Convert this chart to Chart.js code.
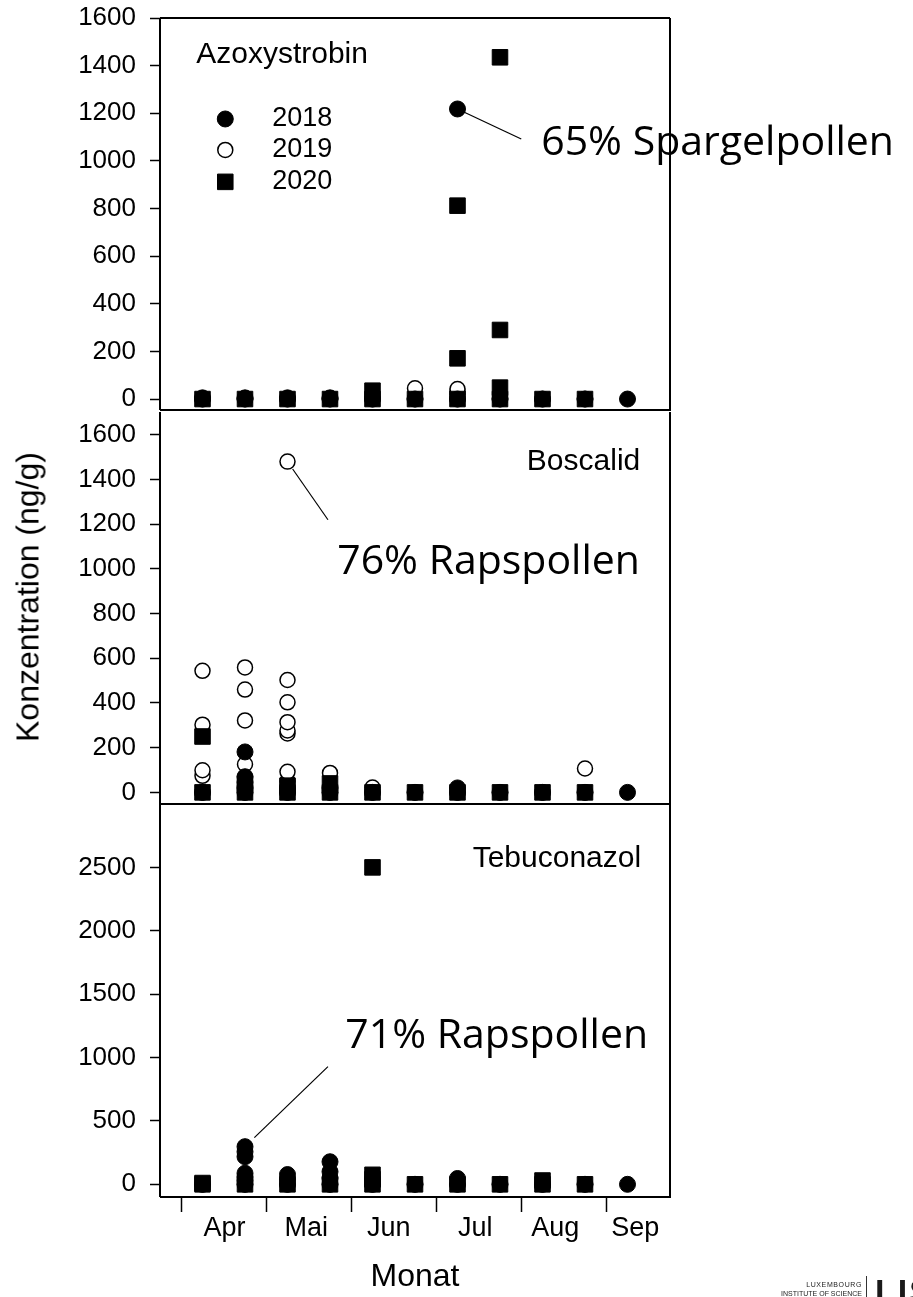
<!DOCTYPE html>
<html>
<head>
<meta charset="utf-8">
<script src="https://cdn.jsdelivr.net/npm/chart.js@4/dist/chart.umd.min.js"></script>
<style>
  body { margin: 0; background: #fff; width: 913px; height: 1297px; overflow: hidden; position: relative;
         font-family: 'Liberation Sans', Arial, sans-serif; }
  .panel { position: absolute; left: 0; width: 913px; }
  #p1 { top: 0; height: 423px; }
  #p2 { top: 400px; height: 420px; }
  #p3 { top: 790px; height: 507px; }
  #ytitle { position: absolute; left: 28px; top: 597px; transform: translate(-50%, -50%) rotate(-90deg);
            font-size: 32px; white-space: nowrap; color: #000; }
  .logo-small { position: absolute; right: 51px; font-size: 7px; color: #222; white-space: nowrap; line-height: 1;
                text-align: right; }
  #logo-bar { position: absolute; left: 866px; top: 1276px; width: 1px; height: 22px; background: #333; }
  #logo-list { position: absolute; left: 875px; top: 1274px; font-size: 34px; line-height: 1; font-weight: bold;
               color: #1a1a1a; letter-spacing: 2px; }
</style>
</head>
<body>
<div class="panel" id="p1"><canvas id="c1"></canvas></div>
<div class="panel" id="p2"><canvas id="c2"></canvas></div>
<div class="panel" id="p3"><canvas id="c3"></canvas></div>
<div id="ytitle">Konzentration (ng/g)</div>
<div class="logo-small" style="top:1281px; letter-spacing:0.6px;">LUXEMBOURG</div>
<div class="logo-small" style="top:1290px;">INSTITUTE OF SCIENCE</div>
<div id="logo-bar"></div>
<div id="logo-list">LIST</div>

<script>
// Sampling slots: half months from April (0 = 1 April, 1 = 1 May, ...)
const sampleX = [0.25, 0.75, 1.25, 1.75, 2.25, 2.75, 3.25, 3.75, 4.25, 4.75, 5.25];
const monthEdges = [0, 1, 2, 3, 4, 5];
const monthNames = ['Apr', 'Mai', 'Jun', 'Jul', 'Aug', 'Sep'];
const monthLabelPos = [0.51, 1.47, 2.44, 3.46, 4.40, 5.34];
const years = ['2018', '2019', '2020'];

// Values as [slot index, ng/g]
const azo2018 = [[0,0],[0,5],[1,0],[1,5],[2,0],[2,5],[3,0],[3,5],[4,0],[5,0],[6,0],[6,1218],[7,0],[8,0],[9,0],[10,0]];
const azo2019 = [[0,0],[1,0],[2,0],[3,0],[4,0],[5,0],[5,45],[6,0],[6,20],[6,32],[6,42],[7,0],[8,0],[9,0]];
const azo2020 = [[0,0],[1,0],[2,0],[3,0],[4,0],[4,35],[5,0],[6,0],[6,171],[6,812],[7,0],[7,48],[7,290],[7,1435],[8,0],[9,0]];

const bos2018 = [[0,0],[1,0],[1,20],[1,45],[1,70],[1,181],[2,0],[2,15],[3,0],[3,20],[4,0],[5,0],[6,0],[6,20],[7,0],[8,0],[9,0],[10,0]];
const bos2019 = [[0,0],[0,74],[0,99],[0,303],[0,544],[1,0],[1,126],[1,322],[1,460],[1,559],[2,0],[2,50],[2,92],[2,264],[2,277],[2,314],[2,403],[2,503],[2,1480],[3,0],[3,87],[4,0],[4,22],[5,0],[6,0],[7,0],[8,0],[9,0],[9,107]];
const bos2020 = [[0,0],[0,250],[1,0],[1,40],[2,0],[2,30],[3,0],[3,40],[4,0],[5,0],[6,0],[7,0],[8,0],[9,0]];

const teb2018 = [[0,0],[1,0],[1,30],[1,60],[1,87],[1,218],[1,257],[1,297],[2,0],[2,40],[2,77],[3,0],[3,50],[3,100],[3,178],[4,0],[5,0],[6,0],[6,46],[7,0],[8,0],[9,0],[10,0]];
const teb2019 = [[0,0],[1,0],[2,0],[3,0],[4,0],[5,0],[6,0],[7,0],[8,0],[9,0]];
const teb2020 = [[0,0],[0,10],[1,0],[2,0],[3,0],[4,0],[4,40],[4,75],[4,2500],[5,0],[6,0],[7,0],[8,0],[8,30],[9,0]];

const ticksAzo = [0, 200, 400, 600, 800, 1000, 1200, 1400, 1600];
const ticksBos = [0, 200, 400, 600, 800, 1000, 1200, 1400, 1600];
const ticksTeb = [0, 500, 1000, 1500, 2000, 2500];

const FONT = "'Liberation Sans', Arial, sans-serif";
const NOTE_FONT = "41px 'Open Sans', sans-serif";

function toPoints(pairs) {
    return pairs.map(p => ({ x: sampleX[p[0]], y: p[1] }));
}

function makeDatasets(d18, d19, d20) {
    return [
        { label: years[0], data: toPoints(d18), pointStyle: 'circle', pointRadius: 8, borderWidth: 1,
          backgroundColor: '#000', borderColor: '#000', order: 1 },
        { label: years[1], data: toPoints(d19), pointStyle: 'circle', pointRadius: 7.5, borderWidth: 1.5,
          backgroundColor: '#fff', borderColor: '#000', order: 3 },
        { label: years[2], data: toPoints(d20), pointStyle: 'rect', pointRadius: 11, borderWidth: 1,
          backgroundColor: '#000', borderColor: '#000', order: 2 }
    ];
}

// frame, panel name, callouts and legend
const panelDeco = {
    id: 'panelDeco',
    afterDatasetsDraw(chart, args, opts) {
        const { ctx, chartArea: a, scales: { x, y } } = chart;
        ctx.save();
        ctx.strokeStyle = '#000';
        ctx.lineWidth = 2;
        // the panel above already draws the shared top edge
        ctx.beginPath();
        if (opts.frameTop) {
            ctx.moveTo(a.left, a.top);
            ctx.lineTo(a.right, a.top);
        }
        ctx.moveTo(a.right, a.top);
        ctx.lineTo(a.right, a.bottom);
        ctx.lineTo(a.left, a.bottom);
        ctx.moveTo(a.left, a.top);
        ctx.lineTo(a.left, a.bottom);
        ctx.stroke();

        ctx.fillStyle = '#000';
        ctx.font = '30px ' + FONT;
        ctx.textAlign = opts.nameAlign;
        ctx.textBaseline = 'alphabetic';
        ctx.fillText(opts.name, x.getPixelForValue(opts.nameAt[0]), y.getPixelForValue(opts.nameAt[1]));

        (opts.notes || []).forEach(n => {
            const px = x.getPixelForValue(n.point[0]), py = y.getPixelForValue(n.point[1]);
            const ex = x.getPixelForValue(n.lineEnd[0]), ey = y.getPixelForValue(n.lineEnd[1]);
            const len = Math.hypot(ex - px, ey - py);
            ctx.beginPath();
            ctx.lineWidth = 1.2;
            ctx.moveTo(px + (ex - px) / len * n.gap, py + (ey - py) / len * n.gap);
            ctx.lineTo(ex, ey);
            ctx.stroke();
            ctx.font = NOTE_FONT;
            ctx.textAlign = 'left';
            ctx.fillText(n.text, x.getPixelForValue(n.textAt[0]), y.getPixelForValue(n.textAt[1]));
        });

        if (opts.legend) {
            const lg = opts.legend;
            chart.data.datasets.forEach((ds, i) => {
                const ly = y.getPixelForValue(lg.rows[i]);
                ctx.fillStyle = ds.backgroundColor;
                ctx.strokeStyle = ds.borderColor;
                ctx.lineWidth = ds.borderWidth;
                Chart.helpers.drawPoint(ctx, { pointStyle: ds.pointStyle, radius: ds.pointRadius,
                    borderWidth: ds.borderWidth, rotation: 0 }, x.getPixelForValue(lg.markerX), ly);
                ctx.fillStyle = '#000';
                ctx.font = '27px ' + FONT;
                ctx.textAlign = 'left';
                ctx.textBaseline = 'middle';
                ctx.fillText(ds.label, x.getPixelForValue(lg.textX), ly);
            });
        }
        ctx.restore();
    }
};

function yScale(min, max, tickValues) {
    return {
        type: 'linear', min: min, max: max,
        afterFit(scale) {
            scale.width = 160;
            scale.paddingTop = 0;
            scale.paddingBottom = 0;
        },
        afterBuildTicks(scale) { scale.ticks = tickValues.map(v => ({ value: v })); },
        border: { display: false },
        grid: { drawOnChartArea: false, drawTicks: true, tickLength: 10, tickWidth: 1.5, tickColor: '#000' },
        ticks: { color: '#000', padding: 14, font: { family: FONT, size: 26 }, callback: v => String(v) }
    };
}

function xScale(showAxis) {
    const s = {
        type: 'linear', min: -0.25, max: 5.75, display: showAxis
    };
    if (showAxis) {
        Object.assign(s, {
            afterFit(scale) {
                scale.height = 100;
                scale.paddingLeft = 0;
                scale.paddingRight = 0;
            },
            afterBuildTicks(scale) {
                scale.ticks = monthEdges.concat(monthLabelPos).map(v => ({ value: v }));
            },
            border: { display: false },
            grid: {
                drawOnChartArea: false, drawTicks: true, tickLength: 15, tickWidth: 1.5,
                tickColor: c => c.index < monthEdges.length ? '#000' : 'rgba(0,0,0,0)'
            },
            ticks: {
                autoSkip: false, maxRotation: 0, padding: 0, color: '#000',
                font: { family: FONT, size: 27 },
                callback: (v, i) => i < monthEdges.length ? '' : monthNames[i - monthEdges.length]
            },
            title: { display: true, text: 'Monat', color: '#000', font: { family: FONT, size: 32 },
                     padding: { top: 0, bottom: 1 } }
        });
    }
    return s;
}

function makeChart(id, datasets, yOpts, showX, padding, deco) {
    return new Chart(document.getElementById(id), {
        type: 'scatter',
        data: { datasets: datasets },
        options: {
            responsive: true,
            maintainAspectRatio: false,
            animation: false,
            events: [],
            layout: { padding: padding },
            scales: { x: xScale(showX), y: yOpts },
            plugins: { legend: { display: false }, tooltip: { enabled: false }, panelDeco: deco }
        },
        plugins: [panelDeco]
    });
}

makeChart('c1', makeDatasets(azo2018, azo2019, azo2020), yScale(-46, 1600, ticksAzo), false,
    { top: 18, bottom: 13, left: 0, right: 243 },
    {
        name: 'Azoxystrobin', nameAlign: 'left', nameAt: [0.176, 1413], frameTop: true,
        legend: { markerX: 0.518, textX: 1.07, rows: [1176, 1046, 912] },
        notes: [{ text: '65% Spargelpollen', point: [3.25, 1218], lineEnd: [4.0, 1092], gap: 4, textAt: [4.235, 1025] }]
    });

makeChart('c2', makeDatasets(bos2018, bos2019, bos2020), yScale(-52, 1702, ticksBos), false,
    { top: 10, bottom: 16, left: 0, right: 243 },
    {
        name: 'Boscalid', nameAlign: 'right', nameAt: [5.4, 1444], frameTop: false,
        notes: [{ text: '76% Rapspollen', point: [1.25, 1480], lineEnd: [1.726, 1220], gap: 9, textAt: [1.835, 976] }]
    });

makeChart('c3', makeDatasets(teb2018, teb2019, teb2020), yScale(-100, 3000, ticksTeb), true,
    { top: 14, bottom: 0, left: 0, right: 243 },
    {
        name: 'Tebuconazol', nameAlign: 'right', nameAt: [5.41, 2503], frameTop: false,
        notes: [{ text: '71% Rapspollen', point: [0.75, 297], lineEnd: [1.726, 928], gap: 13, textAt: [1.93, 1075] }]
    });
</script>
</body>
</html>
